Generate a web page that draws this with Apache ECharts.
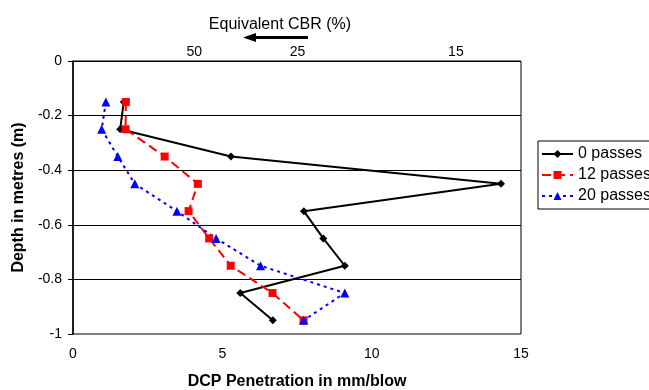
<!DOCTYPE html>
<html>
<head>
<meta charset="utf-8">
<script src="https://cdn.jsdelivr.net/npm/echarts@6/dist/echarts.min.js"></script>
<style>
  html, body { margin: 0; padding: 0; background: #fff; }
  #chart { width: 649px; height: 390px; }
</style>
</head>
<body>
<div id="chart"></div>
<script>
// depth of each reading (m)
const depths = [-0.15, -0.25, -0.35, -0.45, -0.55, -0.65, -0.75, -0.85, -0.95];

// DCP penetration (mm/blow) per depth
const passes0 = [1.7, 1.58, 5.29, 14.33, 7.73, 8.38, 9.1, 5.6, 6.69];
const passes12 = [1.77, 1.76, 3.07, 4.18, 3.87, 4.56, 5.28, 6.68, 7.72];
const passes20 = [1.1, 0.96, 1.5, 2.07, 3.48, 4.79, 6.28, 9.1, 7.72];

// top axis: equivalent CBR labels and where they sit on the mm/blow scale
const cbrLabels = ["50", "25", "15"];
const cbrPositions = [4.06, 7.52, 12.82];

const FONT = "Liberation Sans";

const pairs = (vals) => vals.map((v, i) => [v, depths[i]]);

const chart = echarts.init(document.getElementById("chart"), null, { renderer: "canvas" });

const option = {
  animation: false,
  backgroundColor: "#fff",
  textStyle: { fontFamily: FONT, color: "#000" },
  title: {
    text: "Equivalent CBR (%)",
    left: 275,
    top: 12,
    textAlign: "center",
    textStyle: { fontFamily: FONT, fontSize: 16, fontWeight: "normal", color: "#000" },
  },
  grid: {
    left: 73,
    right: 128,
    top: 61,
    bottom: 56,
    outerBoundsMode: "none",
    containLabel: false,
    show: true,
    borderColor: "#000",
    borderWidth: 1,
  },
  legend: {
    orient: "vertical",
    left: 538,
    top: 141,
    padding: [5, 4, 5, 3],
    itemGap: 5,
    itemWidth: 31,
    itemHeight: 10,
    borderColor: "#000",
    borderWidth: 1,
    borderRadius: 0,
    textStyle: { fontFamily: FONT, fontSize: 16, color: "#000" },
    data: ["0 passes", "12 passes", "20 passes"],
  },
  xAxis: [
    {
      type: "value",
      position: "bottom",
      min: 0,
      max: 15,
      interval: 5,
      name: "DCP Penetration in mm/blow",
      nameLocation: "middle",
      nameGap: 40,
      nameTextStyle: { fontFamily: FONT, fontSize: 16, fontWeight: "bold", color: "#000" },
      axisLine: { show: false },
      axisTick: { show: false },
      splitLine: { show: false },
      axisLabel: { fontFamily: FONT, fontSize: 14, color: "#000", margin: 13 },
    },
    {
      type: "value",
      position: "top",
      min: 0,
      max: 15,
      axisLine: { show: false },
      axisTick: { show: false },
      splitLine: { show: false },
      axisLabel: {
        fontFamily: FONT,
        fontSize: 14,
        color: "#000",
        margin: 2,
        customValues: cbrPositions,
        formatter: (v) => {
          const i = cbrPositions.findIndex((p) => Math.abs(p - v) < 1e-6);
          return i >= 0 ? cbrLabels[i] : "";
        },
      },
    },
  ],
  yAxis: {
    type: "value",
    min: -1,
    max: 0,
    interval: 0.2,
    name: "Depth in metres (m)",
    nameLocation: "middle",
    nameGap: 41,
    nameTextStyle: { fontFamily: FONT, fontSize: 16, fontWeight: "bold", color: "#000" },
    axisLine: { show: true, lineStyle: { color: "#000", width: 1.5 } },
    axisTick: { show: true, length: 5, lineStyle: { color: "#000" } },
    splitLine: { show: true, showMinLine: false, lineStyle: { color: "#000", width: 1 } },
    axisLabel: {
      fontFamily: FONT,
      fontSize: 14,
      color: "#000",
      margin: 11,
      formatter: (v) => String(Math.round(v * 10) / 10),
    },
  },
  graphic: [
    {
      type: "group",
      children: [
        { type: "rect", shape: { x: 252, y: 36, width: 56, height: 3 }, style: { fill: "#000" } },
        { type: "polygon", shape: { points: [[243, 37.5], [256, 33], [256, 42]] }, style: { fill: "#000" } },
      ],
    },
  ],
  series: [
    {
      name: "0 passes",
      type: "line",
      xAxisIndex: 0,
      data: pairs(passes0),
      symbol: "diamond",
      symbolSize: 8,
      color: "#000",
      itemStyle: { color: "#000" },
      lineStyle: { color: "#000", width: 2, type: "solid" },
    },
    {
      name: "12 passes",
      type: "line",
      xAxisIndex: 0,
      data: pairs(passes12),
      symbol: "rect",
      symbolSize: 8,
      color: "#ff0000",
      itemStyle: { color: "#ff0000" },
      lineStyle: { color: "#ff0000", width: 2, type: [9, 5] },
    },
    {
      name: "20 passes",
      type: "line",
      xAxisIndex: 0,
      data: pairs(passes20),
      symbol: "triangle",
      symbolSize: 9,
      color: "#0000ff",
      itemStyle: { color: "#0000ff" },
      lineStyle: { color: "#0000ff", width: 2, type: [3, 4] },
    },
  ],
};

chart.setOption(option);
</script>
</body>
</html>
